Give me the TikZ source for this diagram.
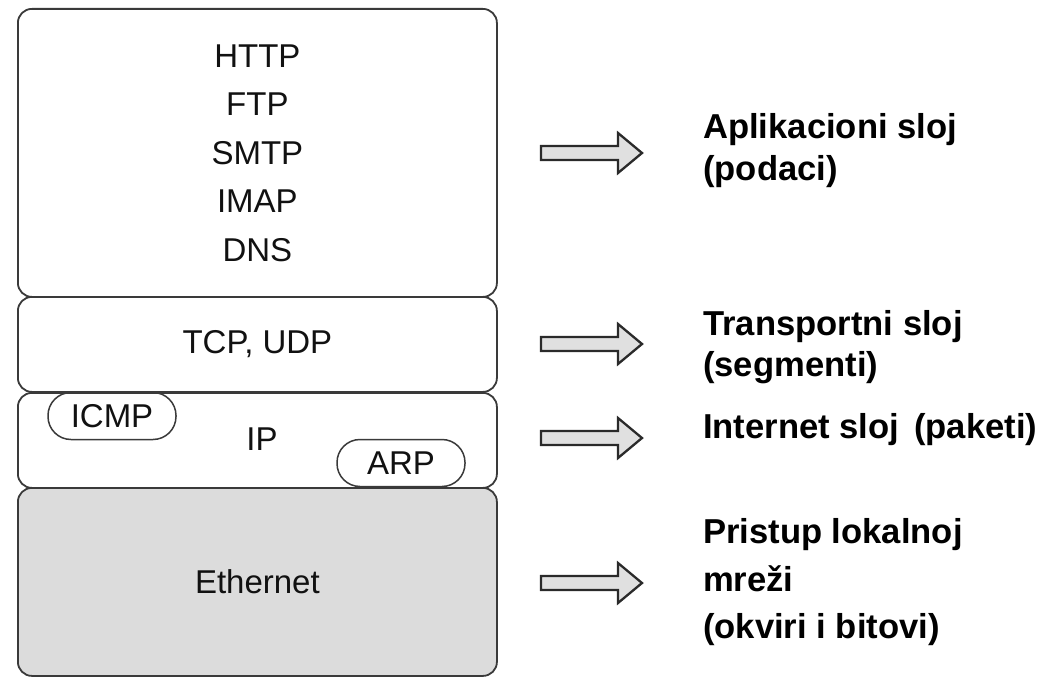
\documentclass[tikz,border=0pt]{standalone}
\usepackage{fontspec}
\setmainfont{Liberation Sans}
\definecolor{linec}{HTML}{3A3A3A}
\definecolor{txt}{HTML}{111111}
\definecolor{ethf}{HTML}{DCDCDC}
\definecolor{arrf}{HTML}{E0E0E0}
\definecolor{arrc}{HTML}{2A2A2A}
\begin{document}
\begin{tikzpicture}[x=1pt,y=-1pt,
  layer/.style={draw=linec, line width=1.8pt, rounded corners=14pt,
    minimum width=479pt, anchor=north west, inner sep=0pt, text=txt,
    font=\fontsize{33}{48.5}\selectfont, align=center},
  pill/.style={draw=linec, line width=1.5pt, rounded corners=23pt,
    minimum width=128pt, minimum height=47pt, inner sep=0pt, text=txt,
    font=\fontsize{33}{40}\selectfont},
  plain/.style={text=txt, inner sep=0pt, font=\fontsize{33}{40}\selectfont},
  lbl/.style={anchor=north west, align=left, inner sep=0pt, text=black,
    font=\bfseries\fontsize{34.6}{41.5}\selectfont},
  arrowbody/.style={draw=arrc, line width=2.3pt, fill=arrf, line join=miter},
  layarrow/.pic={\path[arrowbody] (0,-7) -- (77,-7) -- (77,-20) -- (101,0)
    -- (77,20) -- (77,7) -- (0,7) -- cycle;}]
\useasboundingbox (0,0) rectangle (1055,677);

% layers
\node[layer, minimum height=288pt] (app) at (17,8) {HTTP\\FTP\\SMTP\\IMAP\\DNS};
\node[layer, minimum height=95pt] (tr) at (17,296) {TCP, UDP};
\node[layer, minimum height=95pt] (ipl) at (17,392) {};
\node[plain, anchor=base] (ip) at (262,450) {IP};
\node[pill] (icmp) at (112,416) {ICMP};
\node[pill] (arp) at (401,463) {ARP};
\node[layer, minimum height=188pt, fill=ethf] (eth) at (17,487) {Ethernet};

% arrows
\pic (a1) at (541,153) {layarrow};
\pic (a2) at (541,344) {layarrow};
\pic (a3) at (541,438) {layarrow};
\pic (a4) at (541,583) {layarrow};

% labels
\node[lbl] (l1) at (703,113.3) {Aplikacioni sloj\\(podaci)};
\node[lbl] (l2) at (703,310.3) {Transportni sloj\\[-1pt](segmenti)};
\node[lbl] (l3) at (703,412.8) {Internet sloj\hspace{15pt}(paketi)};
\node[lbl, font=\bfseries\fontsize{34.6}{47.5}\selectfont] (l4) at (703,518.3)
  {Pristup lokalnoj\\mreži\\(okviri i bitovi)};
\end{tikzpicture}
\end{document}
